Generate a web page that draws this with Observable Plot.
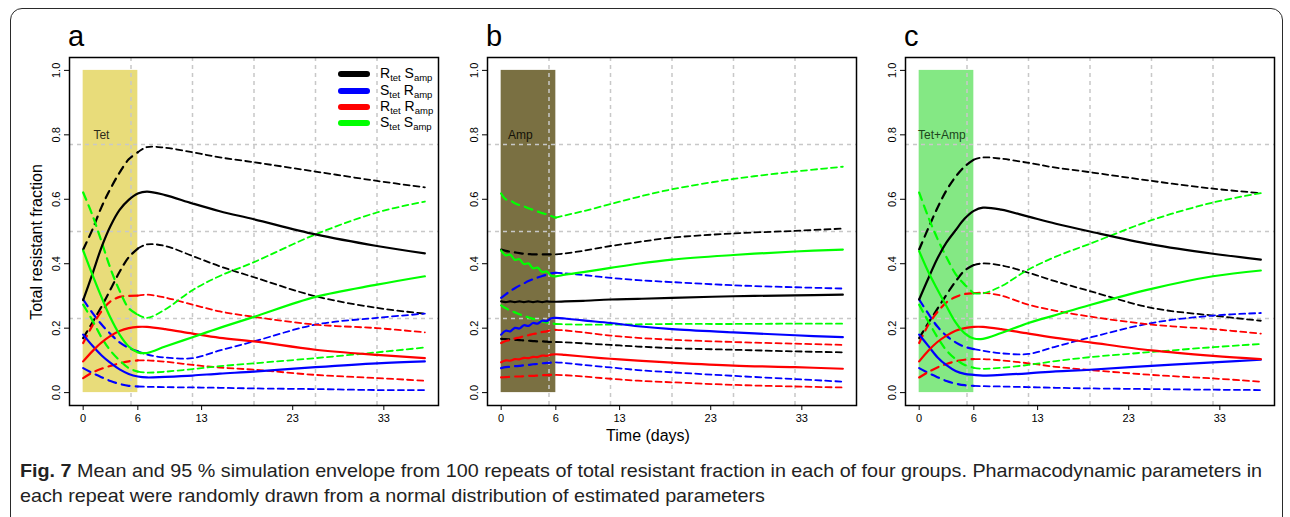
<!DOCTYPE html>
<html>
<head>
<meta charset="utf-8">
<script src="https://cdn.jsdelivr.net/npm/d3@7"></script>
<script src="https://cdn.jsdelivr.net/npm/@observablehq/plot@0.6"></script>
<style>
  html, body { margin: 0; padding: 0; background: #fff; }
  #root { position: relative; width: 1290px; height: 517px; overflow: hidden; font-family: "Liberation Sans", Arial, Helvetica, sans-serif; color: #000; }
  .border { position: absolute; left: 10px; top: 8px; width: 1273px; height: 522px; border: 1.5px solid #2a2a2a; border-radius: 12px; box-sizing: border-box; }
  .panel { position: absolute; top: 55px; }
  .panel svg { overflow: visible; }
  .letter { position: absolute; top: 22px; font-size: 29px; line-height: 1; }
  .ylab { position: absolute; left: 37px; top: 242px; font-size: 16px; white-space: nowrap; transform: translate(-50%, -50%) rotate(-90deg); }
  .xlab { position: absolute; left: 648px; top: 436px; font-size: 16px; white-space: nowrap; transform: translate(-50%, -50%); }
  .leg-row { position: absolute; height: 16px; display: flex; align-items: center; }
  .leg-sw { width: 32px; height: 6px; border-radius: 3px; }
  .leg-tx { position: absolute; font-size: 14px; white-space: nowrap; line-height: 16px; }
  .leg-tx sub { font-size: 9.5px; vertical-align: -3px; line-height: 0; }
  .caption { position: absolute; left: 20px; top: 458px; color: #222; font-family: "Liberation Sans", Arial, sans-serif; white-space: nowrap; line-height: 25px; font-size: 18.5px; transform-origin: 0 0; }
</style>
</head>
<body>
<div id="root"></div>
<script>
// ---------------- data ----------------
const seriesKeys = ["RtetSamp", "StetRamp", "RtetRamp", "StetSamp"];
const panelLetters = ["a", "b", "c"];
const drugLabels = ["Tet", "Amp", "Tet+Amp"];
const drugLabelDay = [2.0, 2.1, 2.5];
const drugLabelValue = 0.8;
const treatWindow = [0, 6];
const xTicks = [0, 6, 13, 23, 33];
const yTicks = [0, 0.2, 0.4, 0.6, 0.8, 1.0];
const xLabel = "Time (days)";
const yLabel = "Total resistant fraction";

// sampled days (panels a and c)
const daysAC = [0, 1, 2, 3, 4, 5, 6, 7, 9, 12, 15, 18.75, 25.5, 32.25, 37.5];
// sampled days (panel b, half-day steps during treatment)
const daysB = [0, 0.5, 1, 1.5, 2, 2.5, 3, 3.5, 4, 4.5, 5, 5.5, 6, 7, 9, 12, 15, 18.75, 25.5, 32.25, 37.5];

// Panel a (Tet)
const a_RtetSamp_mean = [0.287, 0.367, 0.450, 0.517, 0.567, 0.598, 0.618, 0.624, 0.613, 0.587, 0.563, 0.538, 0.491, 0.455, 0.432];
const a_RtetSamp_hi   = [0.444, 0.505, 0.575, 0.633, 0.683, 0.724, 0.746, 0.762, 0.760, 0.746, 0.730, 0.715, 0.686, 0.657, 0.637];
const a_RtetSamp_lo   = [0.169, 0.217, 0.266, 0.320, 0.375, 0.420, 0.447, 0.460, 0.455, 0.424, 0.392, 0.358, 0.299, 0.263, 0.245];
const a_StetRamp_mean = [0.180, 0.146, 0.116, 0.092, 0.072, 0.058, 0.050, 0.047, 0.049, 0.053, 0.059, 0.065, 0.079, 0.091, 0.097];
const a_StetRamp_hi   = [0.289, 0.248, 0.212, 0.182, 0.156, 0.139, 0.128, 0.118, 0.109, 0.107, 0.131, 0.159, 0.211, 0.232, 0.245];
const a_StetRamp_lo   = [0.076, 0.061, 0.048, 0.036, 0.027, 0.021, 0.019, 0.018, 0.017, 0.016, 0.015, 0.013, 0.011, 0.008, 0.008];
const a_RtetRamp_mean = [0.097, 0.128, 0.155, 0.176, 0.191, 0.200, 0.204, 0.204, 0.197, 0.183, 0.170, 0.159, 0.133, 0.117, 0.107];
const a_RtetRamp_hi   = [0.154, 0.207, 0.252, 0.283, 0.297, 0.300, 0.301, 0.304, 0.295, 0.273, 0.252, 0.235, 0.211, 0.200, 0.187];
const a_RtetRamp_lo   = [0.045, 0.062, 0.074, 0.083, 0.091, 0.097, 0.100, 0.100, 0.096, 0.086, 0.078, 0.071, 0.055, 0.045, 0.037];
const a_StetSamp_mean = [0.441, 0.367, 0.297, 0.232, 0.180, 0.143, 0.125, 0.123, 0.143, 0.172, 0.201, 0.235, 0.297, 0.335, 0.361];
const a_StetSamp_hi   = [0.621, 0.552, 0.470, 0.385, 0.316, 0.262, 0.242, 0.232, 0.258, 0.318, 0.362, 0.405, 0.491, 0.559, 0.593];
const a_StetSamp_lo   = [0.273, 0.225, 0.172, 0.130, 0.100, 0.076, 0.065, 0.062, 0.065, 0.073, 0.082, 0.091, 0.107, 0.125, 0.140];

// Panel b (Amp)
const b_RtetSamp_mean = [0.283, 0.281, 0.283, 0.281, 0.283, 0.281, 0.283, 0.281, 0.283, 0.281, 0.283, 0.282, 0.282, 0.283, 0.285, 0.289, 0.291, 0.294, 0.299, 0.302, 0.304];
const b_RtetSamp_hi   = [0.444, 0.440, 0.437, 0.435, 0.433, 0.431, 0.430, 0.429, 0.429, 0.429, 0.429, 0.429, 0.429, 0.432, 0.440, 0.455, 0.467, 0.481, 0.494, 0.502, 0.509];
const b_RtetSamp_lo   = [0.167, 0.166, 0.165, 0.164, 0.163, 0.162, 0.161, 0.160, 0.159, 0.159, 0.158, 0.157, 0.157, 0.156, 0.153, 0.148, 0.143, 0.138, 0.133, 0.128, 0.125];
const b_StetRamp_mean = [0.180, 0.192, 0.190, 0.201, 0.199, 0.209, 0.207, 0.216, 0.214, 0.223, 0.222, 0.231, 0.232, 0.230, 0.224, 0.216, 0.206, 0.197, 0.187, 0.178, 0.172];
const b_StetRamp_hi   = [0.294, 0.305, 0.315, 0.324, 0.332, 0.339, 0.346, 0.352, 0.357, 0.362, 0.366, 0.370, 0.372, 0.370, 0.365, 0.356, 0.349, 0.343, 0.333, 0.327, 0.323];
const b_StetRamp_lo   = [0.076, 0.079, 0.080, 0.082, 0.083, 0.085, 0.086, 0.088, 0.089, 0.091, 0.092, 0.093, 0.094, 0.092, 0.086, 0.078, 0.070, 0.063, 0.052, 0.042, 0.034];
const b_RtetRamp_mean = [0.094, 0.100, 0.099, 0.104, 0.103, 0.108, 0.107, 0.111, 0.110, 0.115, 0.114, 0.118, 0.119, 0.117, 0.112, 0.105, 0.099, 0.093, 0.084, 0.079, 0.074];
const b_RtetRamp_hi   = [0.154, 0.160, 0.163, 0.168, 0.171, 0.175, 0.178, 0.182, 0.184, 0.188, 0.190, 0.194, 0.195, 0.193, 0.187, 0.177, 0.170, 0.164, 0.157, 0.152, 0.148];
const b_RtetRamp_lo   = [0.047, 0.048, 0.049, 0.050, 0.050, 0.051, 0.052, 0.052, 0.053, 0.054, 0.054, 0.055, 0.055, 0.054, 0.050, 0.043, 0.037, 0.032, 0.024, 0.019, 0.016];
const b_StetSamp_mean = [0.441, 0.426, 0.428, 0.412, 0.414, 0.399, 0.401, 0.386, 0.388, 0.374, 0.376, 0.363, 0.361, 0.366, 0.374, 0.387, 0.400, 0.413, 0.427, 0.438, 0.444];
const b_StetSamp_hi   = [0.618, 0.600, 0.596, 0.588, 0.582, 0.578, 0.572, 0.567, 0.562, 0.557, 0.553, 0.548, 0.543, 0.550, 0.563, 0.585, 0.607, 0.631, 0.663, 0.686, 0.701];
const b_StetSamp_lo   = [0.271, 0.262, 0.255, 0.249, 0.243, 0.238, 0.233, 0.229, 0.225, 0.221, 0.218, 0.215, 0.213, 0.212, 0.211, 0.211, 0.212, 0.213, 0.213, 0.214, 0.214];

// Panel c (Tet+Amp)
const c_RtetSamp_mean = [0.289, 0.354, 0.416, 0.466, 0.504, 0.540, 0.564, 0.574, 0.568, 0.546, 0.524, 0.500, 0.460, 0.431, 0.413];
const c_RtetSamp_hi   = [0.444, 0.510, 0.573, 0.628, 0.670, 0.702, 0.723, 0.730, 0.726, 0.713, 0.698, 0.684, 0.657, 0.633, 0.619];
const c_RtetSamp_lo   = [0.169, 0.216, 0.260, 0.304, 0.345, 0.379, 0.396, 0.401, 0.395, 0.372, 0.345, 0.315, 0.263, 0.239, 0.223];
const c_StetRamp_mean = [0.180, 0.145, 0.110, 0.085, 0.067, 0.058, 0.055, 0.053, 0.055, 0.060, 0.066, 0.071, 0.083, 0.094, 0.102];
const c_StetRamp_hi   = [0.289, 0.245, 0.205, 0.176, 0.156, 0.142, 0.135, 0.130, 0.122, 0.120, 0.143, 0.171, 0.216, 0.239, 0.247];
const c_StetRamp_lo   = [0.076, 0.061, 0.048, 0.036, 0.028, 0.023, 0.021, 0.020, 0.019, 0.017, 0.015, 0.013, 0.011, 0.009, 0.008];
const c_RtetRamp_mean = [0.097, 0.130, 0.157, 0.177, 0.192, 0.200, 0.204, 0.204, 0.197, 0.183, 0.170, 0.156, 0.131, 0.114, 0.104];
const c_RtetRamp_hi   = [0.154, 0.210, 0.250, 0.280, 0.297, 0.306, 0.309, 0.310, 0.301, 0.273, 0.254, 0.236, 0.211, 0.197, 0.183];
const c_RtetRamp_lo   = [0.047, 0.064, 0.078, 0.089, 0.097, 0.102, 0.104, 0.104, 0.100, 0.091, 0.080, 0.070, 0.055, 0.044, 0.034];
const c_StetSamp_mean = [0.439, 0.375, 0.320, 0.268, 0.218, 0.184, 0.168, 0.167, 0.185, 0.216, 0.241, 0.272, 0.322, 0.361, 0.379];
const c_StetSamp_hi   = [0.621, 0.545, 0.478, 0.420, 0.368, 0.335, 0.308, 0.308, 0.330, 0.382, 0.422, 0.462, 0.535, 0.590, 0.619];
const c_StetSamp_lo   = [0.273, 0.221, 0.172, 0.131, 0.104, 0.086, 0.077, 0.074, 0.077, 0.086, 0.098, 0.110, 0.126, 0.141, 0.151];

const captionBold = "Fig. 7";
const captionLine1 = " Mean and 95 % simulation envelope from 100 repeats of total resistant fraction in each of four groups. Pharmacodynamic parameters in";
const captionLine2 = "each repeat were randomly drawn from a normal distribution of estimated parameters";

// ---------------- styles ----------------
const seriesColor = {RtetSamp: "#000000", StetRamp: "#0000ff", RtetRamp: "#ff0000", StetSamp: "#00ff00"};
const seriesLegendHTML = {
  RtetSamp: "R<sub>tet</sub> S<sub>amp</sub>",
  StetRamp: "S<sub>tet</sub> R<sub>amp</sub>",
  RtetRamp: "R<sub>tet</sub> R<sub>amp</sub>",
  StetSamp: "S<sub>tet</sub> S<sub>amp</sub>"
};
const shadeColor = ["#e8dc7a", "#7a7042", "#84e884"];
const drugTextColor = ["#2e2c1a", "#141208", "#1c461c"];

const panelData = [
  {days: daysAC, vals: {
    RtetSamp: [a_RtetSamp_mean, a_RtetSamp_lo, a_RtetSamp_hi],
    StetRamp: [a_StetRamp_mean, a_StetRamp_lo, a_StetRamp_hi],
    RtetRamp: [a_RtetRamp_mean, a_RtetRamp_lo, a_RtetRamp_hi],
    StetSamp: [a_StetSamp_mean, a_StetSamp_lo, a_StetSamp_hi]}},
  {days: daysB, vals: {
    RtetSamp: [b_RtetSamp_mean, b_RtetSamp_lo, b_RtetSamp_hi],
    StetRamp: [b_StetRamp_mean, b_StetRamp_lo, b_StetRamp_hi],
    RtetRamp: [b_RtetRamp_mean, b_RtetRamp_lo, b_RtetRamp_hi],
    StetSamp: [b_StetSamp_mean, b_StetSamp_lo, b_StetSamp_hi]}},
  {days: daysAC, vals: {
    RtetSamp: [c_RtetSamp_mean, c_RtetSamp_lo, c_RtetSamp_hi],
    StetRamp: [c_StetRamp_mean, c_StetRamp_lo, c_StetRamp_hi],
    RtetRamp: [c_RtetRamp_mean, c_RtetRamp_lo, c_RtetRamp_hi],
    StetSamp: [c_StetSamp_mean, c_StetSamp_lo, c_StetSamp_hi]}}
];

const root = document.getElementById("root");
const border = document.createElement("div");
border.className = "border";
root.appendChild(border);

const maxDay = d3.max(daysAC);
const pad = 0.04 * maxDay;
const xDomain = [-pad, maxDay + pad];
const yDomain = [-0.04, 1.04];
const gridX = d3.range(1, 6).map(i => xDomain[0] + i * (xDomain[1] - xDomain[0]) / 6);
const gridY = d3.range(1, 4).map(i => yDomain[0] + i * (yDomain[1] - yDomain[0]) / 4);
const stats = ["mean", "lo", "hi"];

const panelLeft = [20, 438, 856];

panelData.forEach((pd, p) => {
  const rows = [];
  seriesKeys.forEach(s => {
    pd.vals[s].forEach((arr, si) => {
      arr.forEach((v, i) => rows.push({day: pd.days[i], value: v, key: s + "-" + stats[si], stat: stats[si], color: seriesColor[s]}));
    });
  });
  const bounds = rows.filter(r => r.stat !== "mean");
  const means = rows.filter(r => r.stat === "mean");

  const chart = Plot.plot({
    width: 418,
    height: 378,
    marginLeft: 49,
    marginRight: 0,
    marginTop: 2,
    marginBottom: 28,
    style: {fontFamily: "'Liberation Sans', Arial, sans-serif", fontSize: "11px", color: "#000", background: "transparent"},
    x: {domain: xDomain},
    y: {domain: yDomain},
    color: {type: "identity"},
    marks: [
      Plot.rect([treatWindow], {x1: d => d[0], x2: d => d[1], y1: () => 0, y2: () => 1, fill: shadeColor[p]}),
      Plot.ruleX(gridX, {stroke: "#c8c8c8", strokeWidth: 1.5, strokeDasharray: "4,4"}),
      Plot.ruleY(gridY, {stroke: "#c8c8c8", strokeWidth: 1.5, strokeDasharray: "4,4"}),
      Plot.text([drugLabels[p]], {x: () => drugLabelDay[p], y: () => drugLabelValue, text: d => d, fontSize: 12, fill: drugTextColor[p]}),
      Plot.line(bounds.filter(r => r.day <= treatWindow[1]), {x: "day", y: "value", z: "key", stroke: "color", strokeWidth: 2.2, strokeDasharray: "8,6", curve: "catmull-rom"}),
      Plot.line(bounds.filter(r => r.day >= treatWindow[1]), {x: "day", y: "value", z: "key", stroke: "color", strokeWidth: 1.8, strokeDasharray: "6,4", curve: "catmull-rom"}),
      Plot.line(means, {x: "day", y: "value", z: "key", stroke: "color", strokeWidth: 2.2, curve: "catmull-rom"}),
      Plot.axisX({ticks: xTicks, tickFormat: d => String(d), tickSize: 5, tickPadding: 4, label: null}),
      Plot.axisY({ticks: yTicks, tickFormat: d3.format(".1f"), tickSize: 5, tickPadding: 5, tickRotate: -90, label: null}),
      Plot.frame({stroke: "#000", strokeWidth: 1.5})
    ]
  });
  const holder = document.createElement("div");
  holder.className = "panel";
  holder.style.left = panelLeft[p] + "px";
  holder.appendChild(chart);
  root.appendChild(holder);

  const letter = document.createElement("div");
  letter.className = "letter";
  letter.style.left = (panelLeft[p] + 48) + "px";
  letter.textContent = panelLetters[p];
  root.appendChild(letter);
});

// axis titles
const ylab = document.createElement("div");
ylab.className = "ylab";
ylab.textContent = yLabel;
root.appendChild(ylab);
const xlab = document.createElement("div");
xlab.className = "xlab";
xlab.textContent = xLabel;
root.appendChild(xlab);

// legend (panel a)
const legendRowY = [74, 90.5, 106.6, 123];
seriesKeys.forEach((s, i) => {
  const row = document.createElement("div");
  row.className = "leg-row";
  row.style.left = "338px";
  row.style.top = (legendRowY[i] - 8) + "px";
  const sw = document.createElement("div");
  sw.className = "leg-sw";
  sw.style.background = seriesColor[s];
  row.appendChild(sw);
  root.appendChild(row);
  const tx = document.createElement("div");
  tx.className = "leg-tx";
  tx.style.left = "380px";
  tx.style.top = (legendRowY[i] - 9) + "px";
  tx.innerHTML = seriesLegendHTML[s];
  root.appendChild(tx);
});

// caption (condensed look: regular sans compressed horizontally to the reference width)
const cap = document.createElement("div");
cap.className = "caption";
const line1 = document.createElement("span");
const b = document.createElement("b");
b.textContent = captionBold;
line1.appendChild(b);
line1.appendChild(document.createTextNode(captionLine1));
cap.appendChild(line1);
cap.appendChild(document.createElement("br"));
cap.appendChild(document.createTextNode(captionLine2));
root.appendChild(cap);
const w = line1.getBoundingClientRect().width;
if (w > 0) cap.style.transform = "scaleX(" + (1242 / w).toFixed(4) + ")";
</script>
</body>
</html>
